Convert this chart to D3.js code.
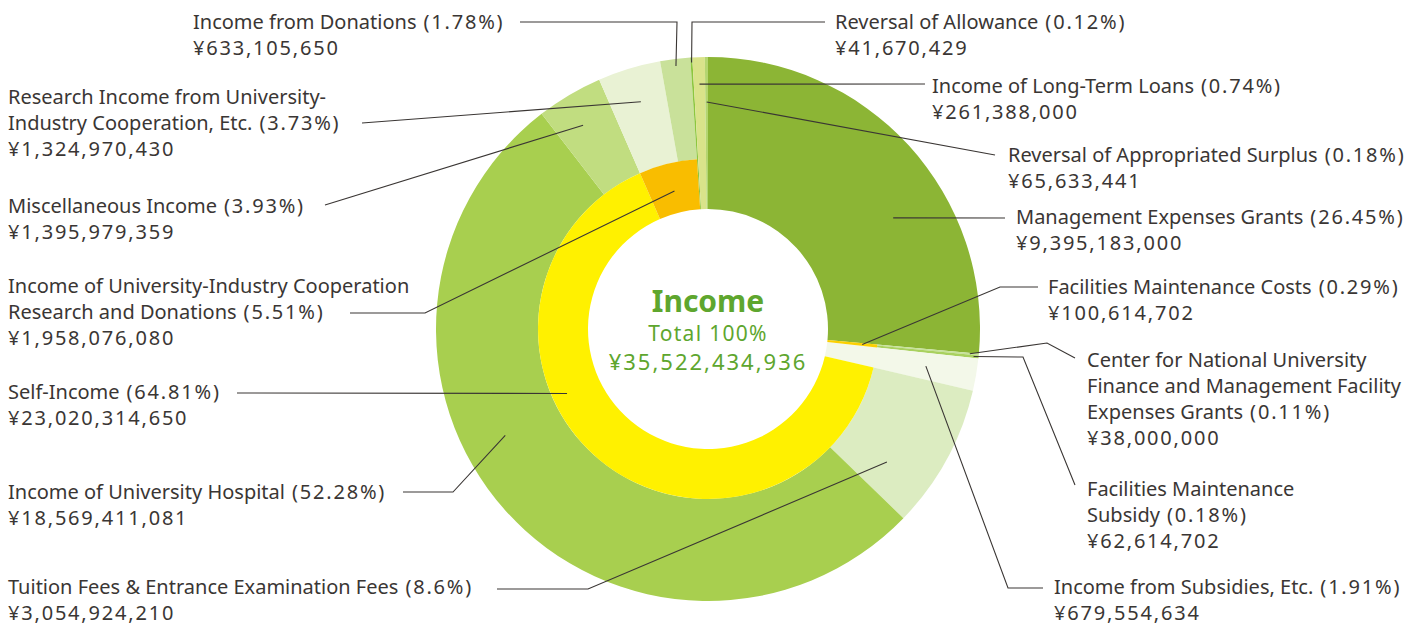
<!DOCTYPE html>
<html>
<head>
<meta charset="utf-8">
<script src="https://cdn.jsdelivr.net/npm/d3@7"></script>
<style>
  body { margin: 0; background: #fff; }
  svg { display: block; }
  text { font-family: "Noto Sans", sans-serif; }
</style>
</head>
<body>
<div class="chart-holder"></div>
<script>
// outer ring items, clockwise from 12 o'clock
const itemNames = [
  "Management Expenses Grants",
  "Center for National University\nFinance and Management Facility\nExpenses Grants",
  "Facilities Maintenance\nSubsidy",
  "Income from Subsidies, Etc.",
  "Tuition Fees & Entrance Examination Fees",
  "Income of University Hospital",
  "Miscellaneous Income",
  "Research Income from University-\nIndustry Cooperation, Etc.",
  "Income from Donations",
  "Reversal of Allowance",
  "Income of Long-Term Loans",
  "Reversal of Appropriated Surplus"
]
const itemAmounts = [9395183000, 38000000, 62614702, 679554634, 3054924210, 18569411081,
  1395979359, 1324970430, 633105650, 41670429, 261388000, 65633441]
const itemShares = [26.45, 0.11, 0.18, 1.91, 8.6, 52.28, 3.93, 3.73, 1.78, 0.12, 0.74, 0.18]
const itemColors = ["#8cb535", "#c6e29a", "#a9d15f", "#f3f8e9", "#dcecc1", "#a8cf4f",
  "#c1dd80", "#e9f2d4", "#c9e19a", "#8dc63f", "#d9e38a", "#b4d570"]
// which inner group each item belongs to (-1 = none)
const itemGroup = [-1, 0, 0, -1, 1, 1, 1, 2, 2, -1, -1, -1]

// inner ring groups
const groupNames = [
  "Facilities Maintenance Costs",
  "Self-Income",
  "Income of University-Industry Cooperation\nResearch and Donations"
]
const groupAmounts = [100614702, 23020314650, 1958076080]
const groupShares = [0.29, 64.81, 5.51]
const groupColors = ["#fcd000", "#fff100", "#f9bd00"]

const totalAmount = 35522434936

const width = 1425, height = 627
const cx = 708, cy = 329
const rHole = 120, rMid = 170, rOuter = 272

const svg = d3.select('.chart-holder').append('svg')
  .attr('width', width).attr('height', height)
const g = svg.append('g').attr('transform', `translate(${cx},${cy})`)

const pie = d3.pie().sort(null).value(d => d)
const arcs = pie(itemAmounts)

// outer ring
const arc = d3.arc()
g.append('g').selectAll('path')
  .data(arcs)
  .enter()
  .append('path')
  .attr('d', (d, i) => arc({
    innerRadius: itemGroup[i] < 0 ? rHole : rMid,
    outerRadius: rOuter,
    startAngle: d.startAngle,
    endAngle: d.endAngle
  }))
  .attr('fill', (d, i) => itemColors[i])

// inner ring, spans its members
const groupArcs = groupNames.map((n, gi) => {
  const members = arcs.filter((a, i) => itemGroup[i] === gi)
  return {
    startAngle: d3.min(members, m => m.startAngle),
    endAngle: d3.max(members, m => m.endAngle)
  }
})
g.append('g').selectAll('path')
  .data(groupArcs)
  .enter()
  .append('path')
  .attr('d', d => arc({ innerRadius: rHole, outerRadius: rMid, startAngle: d.startAngle, endAngle: d.endAngle }))
  .attr('fill', (d, i) => groupColors[i])

// centre text
const green = '#5ea62e'
const fmt = d3.format(',')
g.append('text').attr('y', -28).attr('text-anchor', 'middle').attr('dy', '.35em')
  .attr('font-size', 30).attr('font-weight', 700).attr('fill', green).text('Income')
g.append('text').attr('y', 5).attr('text-anchor', 'middle').attr('dy', '.35em')
  .attr('font-size', 21).attr('letter-spacing', 1.3).attr('fill', green).text('Total 100%')
g.append('text').attr('y', 33).attr('text-anchor', 'middle').attr('dy', '.35em')
  .attr('font-size', 22).attr('letter-spacing', 2).attr('fill', green).text('¥' + fmt(totalAmount))

// label layout: which slice, where along it (t) and how deep (r) the leader starts,
// leader path points back toward the text, text position
const labelLayout = [
  { kind: 'item', i: 0, t: 0.62, r: 216, pts: [[1005, 218]], x: 1016, y: 217 },
  { kind: 'group', i: 0, t: 0.5, r: 155, pts: [[1000, 287], [1038, 287]], x: 1048, y: 287 },
  { kind: 'item', i: 1, t: 0.5, r: 263, pts: [[1047, 343], [1075, 358]], x: 1087, y: 360 },
  { kind: 'item', i: 2, t: 0.5, r: 267, pts: [[1023, 357], [1075, 485]], x: 1087, y: 489 },
  { kind: 'item', i: 3, t: 0.5, r: 221, pts: [[1008, 588], [1043, 588]], x: 1054, y: 587 },
  { kind: 'item', i: 4, t: 0.76, r: 223, pts: [[588, 589], [497, 589]], x: 8, y: 587 },
  { kind: 'item', i: 5, t: 0.575, r: 229, pts: [[453, 492], [403, 492]], x: 8, y: 492 },
  { kind: 'group', i: 1, t: 0.61, r: 155, pts: [[237, 393]], x: 8, y: 392 },
  { kind: 'group', i: 2, t: 0.5, r: 142, pts: [[425, 313], [350, 313]], x: 8, y: 286 },
  { kind: 'item', i: 6, t: 0.44, r: 239, pts: [[325, 205]], x: 8, y: 206 },
  { kind: 'item', i: 7, t: 0.53, r: 237, pts: [[362, 123]], x: 8, y: 97 },
  { kind: 'item', i: 8, t: 0.5, r: 265, pts: [[677, 22], [520, 22]], x: 193, y: 22 },
  { kind: 'item', i: 9, t: 0.5, r: 267, pts: [[692, 22], [825, 22]], x: 835, y: 22 },
  { kind: 'item', i: 10, t: 0.5, r: 245, pts: [[925, 84]], x: 932, y: 86 },
  { kind: 'item', i: 11, t: 0.5, r: 227, pts: [[995, 155]], x: 1008, y: 155 }
]

const lineGap = 26
const labelG = svg.append('g')
labelLayout.forEach(L => {
  const a = L.kind === 'item' ? arcs[L.i] : groupArcs[L.i]
  const ang = a.startAngle + (a.endAngle - a.startAngle) * L.t
  const anchor = [cx + L.r * Math.sin(ang), cy - L.r * Math.cos(ang)]
  labelG.append('path')
    .attr('d', d3.line()([anchor, ...L.pts]))
    .attr('fill', 'none')
    .attr('stroke', '#3a3634')
    .attr('stroke-width', 1.1)

  const name = L.kind === 'item' ? itemNames[L.i] : groupNames[L.i]
  const share = L.kind === 'item' ? itemShares[L.i] : groupShares[L.i]
  const amount = L.kind === 'item' ? itemAmounts[L.i] : groupAmounts[L.i]
  // each line: [plain part, numeric part]
  const lines = name.split('\n').map(s => [s, ''])
  lines[lines.length - 1][1] = ` (${share}%)`
  lines.push(['', '¥' + fmt(amount)])

  const t = labelG.append('g').selectAll('text')
    .data(lines)
    .enter()
    .append('text')
    .attr('x', L.x)
    .attr('y', (d, k) => L.y + k * lineGap)
    .attr('dy', '.35em')
    .attr('font-size', 20)
    .attr('fill', '#3a3634')
  t.append('tspan').text(d => d[0])
  t.append('tspan').attr('letter-spacing', 1.8).text(d => d[1])
})
</script>
</body>
</html>
